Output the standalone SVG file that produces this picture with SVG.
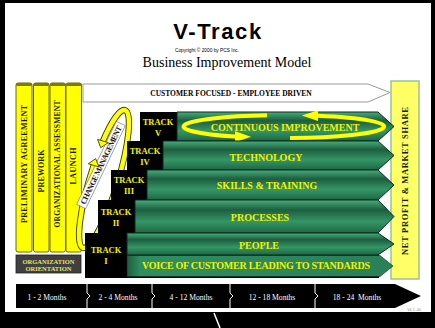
<svg xmlns="http://www.w3.org/2000/svg" width="435" height="328" viewBox="0 0 435 328">
<defs>
<linearGradient id="gb" x1="0" y1="0" x2="0" y2="1">
<stop offset="0" stop-color="#46ad7c"/>
<stop offset="0.3" stop-color="#1d5e3f"/>
<stop offset="0.65" stop-color="#349667"/>
<stop offset="1" stop-color="#1f6644"/>
</linearGradient>
<linearGradient id="gv" x1="0" y1="0" x2="1" y2="0">
<stop offset="0" stop-color="#1d5e3f"/>
<stop offset="0.05" stop-color="#2f8e60"/>
<stop offset="1" stop-color="#2a8058"/>
</linearGradient>
<style>
.ser{font-family:"Liberation Serif","Times New Roman",serif}
.san{font-family:"Liberation Sans",Arial,sans-serif}
.col{fill:#ffff00;stroke:#6b6b00;stroke-width:1}
.cap{fill:#7a7a10}
.ct{font-family:"Liberation Serif",serif;font-weight:bold;fill:#1a1a00;text-anchor:middle}
.bar{stroke:#0b2a1b;stroke-width:1}
.bt{font-family:"Liberation Serif",serif;font-weight:bold;fill:#f2f200;text-anchor:middle;font-size:10px}
.tk{font-family:"Liberation Serif",serif;font-weight:bold;fill:#f2f200;text-anchor:middle;font-size:8.5px}
.mt{font-family:"Liberation Serif",serif;fill:#ffffff;text-anchor:middle;font-size:7.6px}
.sep{fill:none;stroke:#ffffff;stroke-width:1}
.ring{fill:none;stroke:#ffff00;stroke-width:4.5}
.ringo{fill:none;stroke:#3a3a00;stroke-width:6.3}
.ah{fill:#ffff00;stroke:#3a3a00;stroke-width:0.8}
</style>
</defs>
<rect x="0" y="0" width="435" height="328" fill="#000000"/>
<rect x="5" y="3" width="426" height="309" fill="#ffffff"/>
<line x1="214" y1="313" x2="220" y2="328" stroke="#ffffff" stroke-width="1.5"/>

<g id="title">
<text x="218" y="39" class="san" font-size="22" font-weight="bold" text-anchor="middle" letter-spacing="1.6">V-Track</text>
<text x="207" y="52" class="san" font-size="4.8" text-anchor="middle">Copyright © 2000 by PCS Inc.</text>
<text x="227" y="67" class="ser" font-size="14" text-anchor="middle">Business Improvement Model</text>
</g>

<g id="banner">
<path d="M83,84 H368 L390,92.5 L368,102 H83 Z" fill="#ffffff" stroke="#9a9a9a" stroke-width="1"/>
<text x="231" y="96" class="ser" font-size="7.5" font-weight="bold" text-anchor="middle">CUSTOMER FOCUSED - EMPLOYEE DRIVEN</text>
</g>

<g id="net-profit">
<rect x="391" y="81" width="28" height="198" fill="#ffff66" stroke="#99c299" stroke-width="1.5"/>
<text transform="translate(405,181) rotate(-90)" y="3" class="ct" font-size="8.5" textLength="148" lengthAdjust="spacing">NET PROFIT &amp; MARKET SHARE</text>
</g>

<g id="col-preliminary">
<rect x="16" y="83" width="16" height="169" rx="2" class="col"/>
<rect x="16" y="83" width="16" height="3" rx="1.5" class="cap"/>
<text transform="translate(24,164) rotate(-90)" y="2.8" class="ct" font-size="8" textLength="118" lengthAdjust="spacing">PRELIMINARY  AGREEMENT</text>
</g>
<g id="col-prework">
<rect x="33.5" y="83" width="15.5" height="169" rx="2" class="col"/>
<rect x="33.5" y="83" width="15.5" height="3" rx="1.5" class="cap"/>
<text transform="translate(41.5,171) rotate(-90)" y="2.8" class="ct" font-size="8" textLength="43" lengthAdjust="spacing">PREWORK</text>
</g>
<g id="col-assessment">
<rect x="50" y="83" width="15.5" height="169" rx="2" class="col"/>
<rect x="50" y="83" width="15.5" height="3" rx="1.5" class="cap"/>
<text transform="translate(57.5,164) rotate(-90)" y="2.6" class="ct" font-size="7.5" textLength="127" lengthAdjust="spacing">ORGANIZATIONAL ASSESSMENT</text>
</g>
<g id="col-launch">
<rect x="66" y="83" width="15.5" height="169" rx="2" class="col"/>
<rect x="66" y="83" width="15.5" height="3" rx="1.5" class="cap"/>
<text transform="translate(73.5,166) rotate(-90)" y="2.8" class="ct" font-size="8" textLength="37" lengthAdjust="spacing">LAUNCH</text>
</g>

<g id="orientation">
<rect x="16" y="255" width="65" height="18" fill="#404040" stroke="#222222" stroke-width="0.8"/>
<text x="48.5" y="263.5" class="ser" font-size="6.5" font-weight="bold" fill="#e6e070" text-anchor="middle">ORGANIZATION</text>
<text x="48.5" y="270.5" class="ser" font-size="6.5" font-weight="bold" fill="#e6e070" text-anchor="middle">ORIENTATION</text>
</g>

<g id="change-management">
<g transform="translate(104,179) rotate(-73)">
<path class="ringo" d="M36,-12.12 A72,14 0 0 1 72,0 A72,14 0 0 1 -72,0 A72,14 0 0 1 10,-13.86"/>
<path class="ring" d="M36,-12.12 A72,14 0 0 1 72,0 A72,14 0 0 1 -72,0 A72,14 0 0 1 10,-13.86"/>
</g>
<g transform="translate(101,165) rotate(-64.5)">
<rect x="-46" y="-5" width="92" height="10" fill="#ffffff" stroke="#555555" stroke-width="0.5"/>
<text x="0" y="2.8" class="ser" font-size="8" font-weight="bold" text-anchor="middle" fill="#1a1a1a" textLength="86" lengthAdjust="spacing">CHANGE MANAGEMENT</text>
</g>
<g transform="translate(104,179) rotate(-73)">
<path class="ah" d="M10,-19.5 L17,-13.9 L10,-8.3 Z"/>
<path class="ah" d="M36,-17.7 L29,-12.3 L36,-6.5 Z"/>
</g>
</g>

<g id="tracks-bg">
<polygon points="85,278 85,233 98,233 98,200 111,200 111,170 127,170 127,141 140,141 140,112 379,112 379,278" fill="#000000"/>
</g>

<g id="track-5">
<path d="M177,112 H378 L394,126.5 L378,141 H177 Z" fill="url(#gb)" class="bar"/>
<path d="M267,115.2 A100,11.5 0 0 0 235,136.6" fill="none" stroke="#ffff00" stroke-width="4"/>
<path d="M235,131.3 L251,136.8 L235,142.3 Z" fill="#ffff00"/>
<path d="M290,138 A100,11.5 0 0 0 318,115.7" fill="none" stroke="#ffff00" stroke-width="4"/>
<path d="M318,110.3 L302,115.5 L318,121 Z" fill="#ffff00"/>
<text x="285" y="130.5" class="bt">CONTINUOUS IMPROVEMENT</text>
<text x="158" y="125" class="tk">TRACK</text>
<text x="158" y="136" class="tk">V</text>
</g>
<g id="track-4">
<path d="M163,141 H378 L394,155.5 L378,170 H163 Z" fill="url(#gb)" class="bar"/>
<text x="266" y="160.5" class="bt">TECHNOLOGY</text>
<text x="145" y="154" class="tk">TRACK</text>
<text x="145" y="165" class="tk">IV</text>
</g>
<g id="track-3">
<path d="M147,170 H378 L394,185 L378,200 H147 Z" fill="url(#gb)" class="bar"/>
<text x="267" y="188.5" class="bt">SKILLS &amp; TRAINING</text>
<text x="129" y="183" class="tk">TRACK</text>
<text x="129" y="194" class="tk">III</text>
</g>
<g id="track-2">
<path d="M135,200 H378 L394,216.5 L378,233 H135 Z" fill="url(#gb)" class="bar"/>
<text x="260" y="220.5" class="bt">PROCESSES</text>
<text x="116" y="215" class="tk">TRACK</text>
<text x="116" y="226" class="tk">II</text>
</g>
<g id="track-1">
<path d="M127,233 H378 L394,244 L378,255 H127 Z" fill="url(#gb)" class="bar"/>
<path d="M127,255.5 H380 L393,266 L380,276.5 H127 Z" fill="url(#gv)" stroke="#0b2a1b" stroke-width="0.6"/>
<text x="259" y="248.5" class="bt">PEOPLE</text>
<text x="256" y="269" class="bt" font-size="9" textLength="228" lengthAdjust="spacing">VOICE  OF CUSTOMER LEADING TO STANDARDS</text>
<text x="106" y="253" class="tk">TRACK</text>
<text x="106" y="264" class="tk">I</text>
</g>

<g id="timeline">
<path d="M16,284 H395 L421,296 L395,308 H16 Z" fill="#000000"/>
<path class="sep" d="M87,284 V293 L90,296 L87,299 V308 M152,284 V293 L155,296 L152,299 V308 M230,284 V293 L233,296 L230,299 V308 M315,284 V293 L318,296 L315,299 V308"/>
<text x="47" y="300" class="mt">1 - 2 Months</text>
<text x="118" y="300" class="mt">2 - 4 Months</text>
<text x="191" y="300" class="mt">4 - 12 Months</text>
<text x="272" y="300" class="mt">12 - 18 Months</text>
<text x="357" y="300" class="mt" xml:space="preserve">18 - 24  Months</text>
<text x="414" y="311" class="san" font-size="3.5" fill="#888888" text-anchor="middle">V4-1--00</text>
</g>
</svg>
